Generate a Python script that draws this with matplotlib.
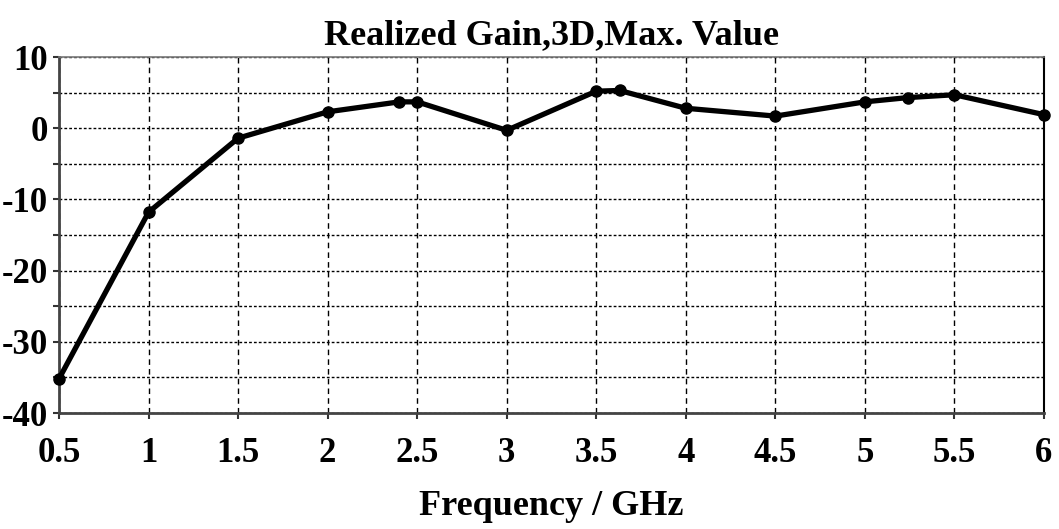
import matplotlib
matplotlib.use("Agg")
import matplotlib.pyplot as plt
from matplotlib.ticker import MultipleLocator

freq = [0.5, 1.0, 1.5, 2.0, 2.4, 2.5, 3.0, 3.5, 3.63, 4.0, 4.5, 5.0, 5.24, 5.5, 6.0]
gain = [-35.2, -11.8, -1.4, 2.3, 3.7, 3.7, -0.3, 5.2, 5.3, 2.8, 1.7, 3.7, 4.3, 4.7, 1.9]
xticks = [0.5, 1, 1.5, 2, 2.5, 3, 3.5, 4, 4.5, 5, 5.5, 6]
xticklabels = ["0.5", "1", "1.5", "2", "2.5", "3", "3.5", "4", "4.5", "5", "5.5", "6"]
yticks = [-40, -30, -20, -10, 0, 10]
title = "Realized Gain,3D,Max. Value"
xlabel = "Frequency / GHz"

plt.rcParams['font.family'] = ['Liberation Serif', 'DejaVu Serif']
plt.rcParams['font.weight'] = 'bold'
plt.rcParams['axes.unicode_minus'] = False

fig = plt.figure(figsize=(10.59, 5.29), dpi=100)
ax = fig.add_axes([59/1059, 1-413/529, (1044-59)/1059, (413-57)/529])

ax.plot(freq, gain, color='black', lw=3.8, marker='o', ms=8, zorder=5, clip_on=False)

ax.set_xlim(0.5, 6)
ax.set_ylim(-40, 10)
ax.set_xticks(xticks)
ax.set_xticklabels(xticklabels)
ax.set_yticks(yticks)
ax.yaxis.set_minor_locator(MultipleLocator(5))

ax.grid(axis='x', which='major', color='black', lw=1.0, linestyle=(0, (4, 3)))
ax.grid(axis='y', which='both', color='black', lw=1.0, linestyle=(0, (2, 1.5)))

ax.tick_params(axis='x', which='major', direction='out', length=4, width=1.5,
               labelsize=25, pad=13, color='#333333')
ax.tick_params(axis='y', which='both', direction='out', length=4, width=1.5,
               labelsize=25, pad=4, color='#333333')

for lab in ax.get_xticklabels() + ax.get_yticklabels():
    lab.set_fontweight('bold')

for side in ['left', 'bottom']:
    ax.spines[side].set_color('#444444')
    ax.spines[side].set_linewidth(2)
ax.spines['top'].set_color('#777777')
ax.spines['top'].set_linewidth(1.2)
ax.spines['right'].set_color('black')
ax.spines['right'].set_linewidth(1.5)

ax.set_title(title, fontsize=26, fontweight='bold', pad=9)
ax.set_xlabel(xlabel, fontsize=26, fontweight='bold', labelpad=15)

fig.savefig('out.png', dpi=100)
